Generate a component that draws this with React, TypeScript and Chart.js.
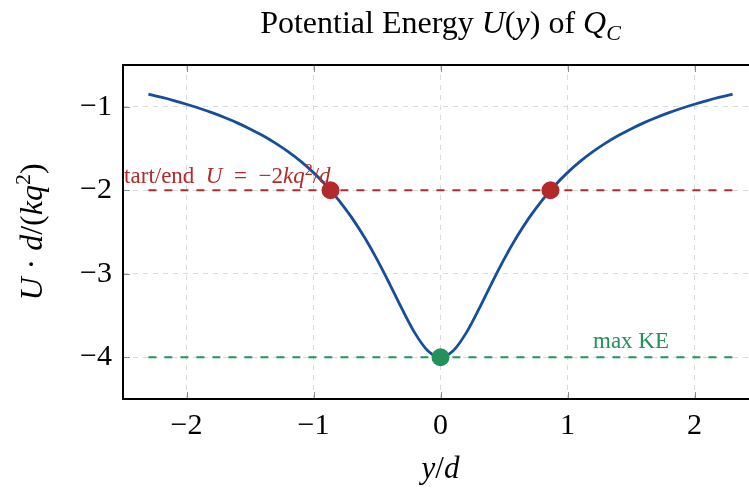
import React, { useEffect, useRef } from "react";
import { Chart, registerables } from "chart.js";

Chart.register(...registerables);

// ---- data ----
const yPositions = [
  -2.3, -2.2, -2.1, -2.0, -1.9, -1.8, -1.7, -1.6, -1.5, -1.4, -1.3, -1.2, -1.1, -1.0,
  -0.9, -0.8, -0.7, -0.6, -0.5, -0.4, -0.3, -0.2, -0.1, 0.0, 0.1, 0.2, 0.3, 0.4, 0.5,
  0.6, 0.7, 0.8, 0.9, 1.0, 1.1, 1.2, 1.3, 1.4, 1.5, 1.6, 1.7, 1.8, 1.9, 2.0, 2.1, 2.2, 2.3,
];
const potentialValues = [
  -0.85, -0.886, -0.926, -0.97, -1.018, -1.071, -1.129, -1.193, -1.265, -1.345, -1.436,
  -1.538, -1.655, -1.789, -1.943, -2.12, -2.325, -2.561, -2.828, -3.123, -3.43, -3.714,
  -3.922, -4.0, -3.922, -3.714, -3.43, -3.123, -2.828, -2.561, -2.325, -2.12, -1.943,
  -1.789, -1.655, -1.538, -1.436, -1.345, -1.265, -1.193, -1.129, -1.071, -1.018, -0.97,
  -0.926, -0.886, -0.85,
];
const startEndX = [-0.866, 0.866];
const startEndU = [-2, -2];
const maxKeX = [0];
const maxKeU = [-4];
const refLineSpan = [-2.3, 2.3];
const startEndLevel = -2;
const maxKeLevel = -4;
const maxKeLabelX = 1.5;
const xTicks = [-2, -1, 0, 1, 2];
const yTicks = [-4, -3, -2, -1];
const xRange = [-2.5, 2.5];
const yRange = [-4.5, -0.5];

const BLUE = "#174e9c";
const RED = "#b32a2a";
const GREEN = "#23915a";
const FAMILY = '"Liberation Serif", "Times New Roman", serif';

type Seg = { t: string; it?: boolean; sup?: boolean; sub?: boolean };

function drawRich(
  ctx: CanvasRenderingContext2D,
  segs: Seg[],
  x: number,
  y: number,
  size: number,
  color: string,
  align: "left" | "center" | "right"
) {
  const fontFor = (s: Seg) =>
    `${s.it ? "italic " : ""}${s.sup || s.sub ? Math.round(size * 0.7) : size}px ${FAMILY}`;
  let w = 0;
  for (const s of segs) {
    ctx.font = fontFor(s);
    w += ctx.measureText(s.t).width;
  }
  let cx = align === "left" ? x : align === "center" ? x - w / 2 : x - w;
  ctx.fillStyle = color;
  ctx.textAlign = "left";
  ctx.textBaseline = "alphabetic";
  for (const s of segs) {
    ctx.font = fontFor(s);
    const dy = s.sup ? -size * 0.38 : s.sub ? size * 0.22 : 0;
    ctx.fillText(s.t, cx, y + dy);
    cx += ctx.measureText(s.t).width;
  }
}

const fmt = (v: number) => (v < 0 ? "\u2212" + Math.abs(v) : String(v));

const decorPlugin = {
  id: "decor",
  afterDraw(chart: any) {
    const { ctx, chartArea: a } = chart;
    const xs = chart.scales.x;
    const ys = chart.scales.y;
    ctx.save();
    // inward tick marks
    ctx.strokeStyle = "#8a8a8a";
    ctx.lineWidth = 1;
    ctx.beginPath();
    xTicks.forEach((v) => {
      const px = Math.round(xs.getPixelForValue(v)) + 0.5;
      ctx.moveTo(px, a.bottom);
      ctx.lineTo(px, a.bottom - 7);
      ctx.moveTo(px, a.top);
      ctx.lineTo(px, a.top + 7);
    });
    yTicks.forEach((v) => {
      const py = Math.round(ys.getPixelForValue(v)) + 0.5;
      ctx.moveTo(a.left, py);
      ctx.lineTo(a.left + 7, py);
      ctx.moveTo(a.right, py);
      ctx.lineTo(a.right - 7, py);
    });
    ctx.stroke();
    // frame
    ctx.strokeStyle = "#000";
    ctx.lineWidth = 2;
    ctx.strokeRect(a.left, a.top, a.right - a.left, a.bottom - a.top);

    // annotations (clipped to plot area)
    ctx.save();
    ctx.beginPath();
    ctx.rect(a.left, a.top, a.right - a.left, a.bottom - a.top);
    ctx.clip();
    drawRich(
      ctx,
      [
        { t: "start/end\u2002" },
        { t: "U", it: true },
        { t: "\u2002=\u2002\u22122" },
        { t: "k", it: true },
        { t: "q", it: true },
        { t: "2", sup: true },
        { t: "/" },
        { t: "d", it: true },
      ],
      xs.getPixelForValue(startEndX[0]),
      ys.getPixelForValue(startEndLevel) - 7,
      23,
      RED,
      "right"
    );
    drawRich(
      ctx,
      [{ t: "max KE" }],
      xs.getPixelForValue(maxKeLabelX),
      ys.getPixelForValue(maxKeLevel) - 9,
      23,
      GREEN,
      "center"
    );
    ctx.restore();

    const cx = (a.left + a.right) / 2;
    // title
    drawRich(
      ctx,
      [
        { t: "Potential Energy " },
        { t: "U", it: true },
        { t: "(" },
        { t: "y", it: true },
        { t: ")" },
        { t: " of " },
        { t: "Q", it: true },
        { t: "C", it: true, sub: true },
      ],
      cx,
      33,
      32,
      "#000",
      "center"
    );
    // x label
    drawRich(ctx, [{ t: "y", it: true }, { t: "/" }, { t: "d", it: true }], cx, 478, 31, "#000", "center");
    // y label
    ctx.save();
    ctx.translate(42, (a.top + a.bottom) / 2);
    ctx.rotate(-Math.PI / 2);
    drawRich(
      ctx,
      [
        { t: "U", it: true },
        { t: " \u00b7 " },
        { t: "d", it: true },
        { t: "/(" },
        { t: "k", it: true },
        { t: "q", it: true },
        { t: "2", sup: true },
        { t: ")" },
      ],
      0,
      0,
      32,
      "#000",
      "center"
    );
    ctx.restore();
    ctx.restore();
  },
};

export default function App() {
  const ref = useRef<HTMLCanvasElement | null>(null);
  useEffect(() => {
    document.body.style.margin = "0";
    document.body.style.overflow = "hidden";
    if (!ref.current) return;
    const chart = new Chart(ref.current, {
      type: "scatter",
      data: {
        datasets: [
          {
            data: maxKeX.map((x, i) => ({ x, y: maxKeU[i] })),
            pointRadius: 9,
            pointBackgroundColor: GREEN,
            pointBorderWidth: 0,
            order: 0,
          },
          {
            data: startEndX.map((x, i) => ({ x, y: startEndU[i] })),
            pointRadius: 9,
            pointBackgroundColor: RED,
            pointBorderWidth: 0,
            order: 0,
          },
          {
            data: yPositions.map((x, i) => ({ x, y: potentialValues[i] })),
            showLine: true,
            borderColor: BLUE,
            borderWidth: 2.8,
            pointRadius: 0,
            tension: 0.3,
            order: 1,
          },
          {
            data: refLineSpan.map((x) => ({ x, y: startEndLevel })),
            showLine: true,
            borderColor: RED,
            borderWidth: 2,
            borderDash: [8, 8],
            pointRadius: 0,
            order: 2,
          },
          {
            data: refLineSpan.map((x) => ({ x, y: maxKeLevel })),
            showLine: true,
            borderColor: GREEN,
            borderWidth: 2,
            borderDash: [8, 8],
            pointRadius: 0,
            order: 2,
          },
        ],
      },
      options: {
        animation: false,
        responsive: false,
        devicePixelRatio: 1,
        layout: { padding: { top: 65, right: 12, bottom: 0, left: 0 } },
        plugins: { legend: { display: false }, tooltip: { enabled: false }, title: { display: false } },
        scales: {
          x: {
            type: "linear",
            min: xRange[0],
            max: xRange[1],
            afterBuildTicks: (s: any) => {
              s.ticks = xTicks.map((v) => ({ value: v }));
            },
            afterFit: (s: any) => {
              s.height = 93;
            },
            ticks: {
              padding: 9,
              color: "#000",
              font: { family: FAMILY, size: 30 },
              callback: (v: any) => fmt(Number(v)),
              maxRotation: 0,
            },
            grid: { color: "#dadada", lineWidth: 1, drawTicks: false },
            border: { display: false, dash: [5, 5] },
          },
          y: {
            type: "linear",
            min: yRange[0],
            max: yRange[1],
            afterBuildTicks: (s: any) => {
              s.ticks = yTicks.map((v) => ({ value: v }));
            },
            afterFit: (s: any) => {
              s.width = 123;
            },
            ticks: {
              padding: 11,
              color: "#000",
              font: { family: FAMILY, size: 30 },
              callback: (v: any) => fmt(Number(v)),
            },
            grid: { color: "#dadada", lineWidth: 1, drawTicks: false },
            border: { display: false, dash: [5, 5] },
          },
        },
      },
      plugins: [decorPlugin],
    });
    return () => chart.destroy();
  }, []);
  return (
    <div style={{ width: 749, height: 492, overflow: "hidden", background: "#fff" }}>
      <canvas ref={ref} width={770} height={492} style={{ width: 770, height: 492, display: "block" }} />
    </div>
  );
}
